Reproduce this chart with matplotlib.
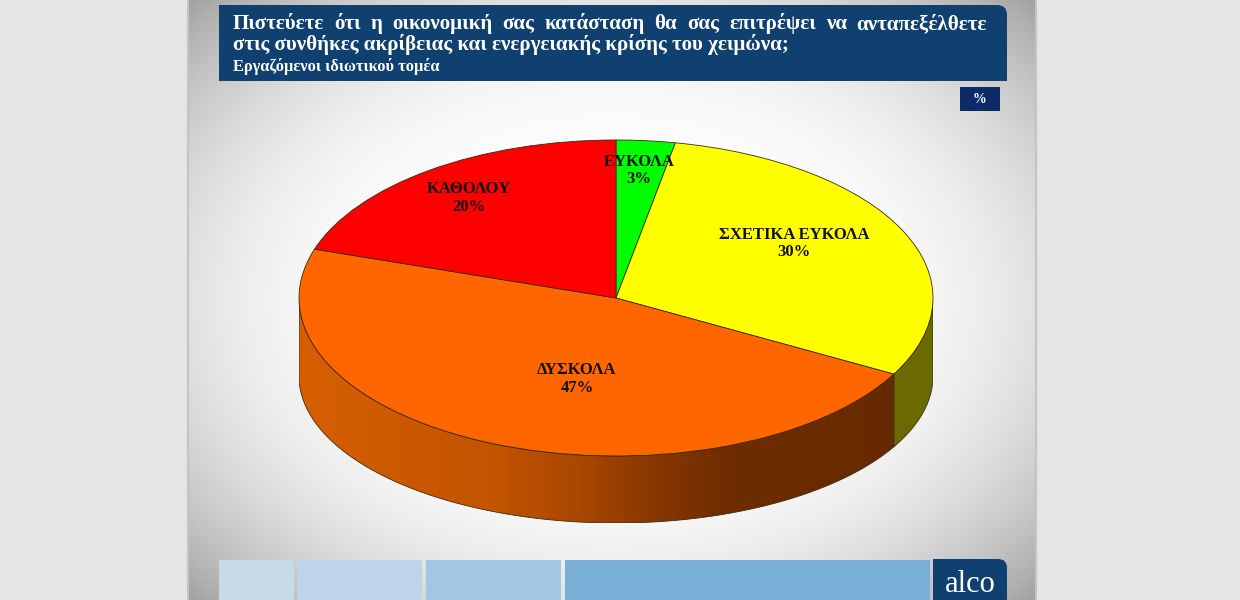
import numpy as np
import matplotlib
matplotlib.use("Agg")
import matplotlib.pyplot as plt
from matplotlib.patches import Rectangle, Polygon, PathPatch
from matplotlib.path import Path
from matplotlib.colors import LinearSegmentedColormap

# ---------------- data ----------------
categories = ["ΕΥΚΟΛΑ", "ΣΧΕΤΙΚΑ ΕΥΚΟΛΑ", "ΔΥΣΚΟΛΑ", "ΚΑΘΟΛΟΥ"]
values = [3, 30, 47, 20]
title_line1 = "Πιστεύετε ότι η οικονομική σας κατάσταση θα σας επιτρέψει να ανταπεξέλθετε"
title_line2 = "στις συνθήκες ακρίβειας και ενεργειακής κρίσης του χειμώνα;"
subtitle = "Εργαζόμενοι ιδιωτικού τομέα"
unit_label = "%"
logo_text = "alco"

# ---------------- styles ----------------
slice_colors = ["#00ff00", "#ffff00", "#ff6600", "#ff0000"]
label_rx = [0.77, 0.62, 0.31, 0.79]
label_ry = [0.81, 0.81, 0.56, 0.78]
NAVY = "#0f406f"
SERIF = ["Liberation Serif", "DejaVu Serif"]

W, H = 1240, 600
fig = plt.figure(figsize=(W / 100, H / 100), dpi=100)
fig.patch.set_facecolor("#e5e5e5")

bg = fig.add_axes([0, 0, 1, 1])
bg.set_xlim(0, W)
bg.set_ylim(H, 0)
bg.axis("off")

# slide background (radial grey gradient)
sx0, sx1 = 187, 1037
xs = np.linspace(sx0, sx1, 400)
ys = np.linspace(0, H, 300)
X, Y = np.meshgrid(xs, ys)
t = np.sqrt(((X - 612) / 430) ** 2 + ((Y - 300) / 310) ** 2)
val = 252 - 115 * np.clip(t - 0.5, 0, None) ** 2
val = np.clip(val, 150, 252) / 255.0
img = np.dstack([val, val, val])
bg.imshow(img, extent=(sx0, sx1, H, 0), aspect="auto", zorder=0, interpolation="bilinear")
bg.plot([sx0 + 1, sx0 + 1], [0, H], color="#c4c4c4", lw=1.5, zorder=1)
bg.plot([sx1 - 1, sx1 - 1], [0, H], color="#c4c4c4", lw=1.5, zorder=1)


def box_round_tr(x0, y0, x1, y1, r, color, z=2):
    # rectangle with rounded top-right corner (pixel coords, y down)
    verts = [(x0, y1), (x0, y0), (x1 - r, y0), (x1, y0), (x1, y0 + r), (x1, y1), (x0, y1)]
    codes = [Path.MOVETO, Path.LINETO, Path.LINETO, Path.CURVE3, Path.CURVE3,
             Path.LINETO, Path.CLOSEPOLY]
    bg.add_patch(PathPatch(Path(verts, codes), facecolor=color, edgecolor="none", zorder=z))


# title box
box_round_tr(219, 5, 1007, 81, 10, NAVY)

renderer = fig.canvas.get_renderer()

# font size fitted to the second title line width
probe = bg.text(233, 50, title_line2, fontsize=12, fontweight="bold", family=SERIF,
                color="white", va="baseline", ha="left", zorder=3)
w12 = probe.get_window_extent(renderer).width
fs_title = 12 * (555 / w12)
probe.set_fontsize(fs_title)

# justified first line
words = title_line1.split()
wtexts = [bg.text(0, 29, w, fontsize=fs_title, fontweight="bold", family=SERIF,
                  color="white", va="baseline", ha="left", zorder=3) for w in words]
widths = [tx.get_window_extent(renderer).width for tx in wtexts]
gap = (987 - 233 - sum(widths)) / (len(words) - 1)
xcur = 233
for tx, wd in zip(wtexts, widths):
    tx.set_x(xcur)
    xcur += wd + gap

sub = bg.text(233, 71, subtitle, fontsize=10, fontweight="bold", family=SERIF,
              color="white", va="baseline", ha="left", zorder=3)
ws = sub.get_window_extent(renderer).width
sub.set_fontsize(10 * 207 / ws)

# % box
bg.add_patch(Rectangle((960, 87), 40, 24, facecolor="#0c2b69", edgecolor="none", zorder=2))
bg.text(980, 99.5, unit_label, fontsize=10, fontweight="bold", family=SERIF,
        color="white", ha="center", va="center", zorder=3)

# bottom bars
bars = [(219, 294, "#c6daea"), (297, 422, "#bdd4ea"), (426, 561, "#a3c6e4"), (565, 930, "#79aed6")]
for x0, x1, c in bars:
    bg.add_patch(Rectangle((x0, 560), x1 - x0, 40, facecolor=c, edgecolor="none", zorder=2))
box_round_tr(933, 559, 1007, 601, 9, NAVY)
bg.text(970, 592, logo_text, fontsize=22, family=SERIF, color="white",
        ha="center", va="baseline", zorder=3)

# ---------------- pie ----------------
cxp, cyp, rx, ry = 616, 298, 317, 158
bot_off, ry_b = 78, 147
y_low = -(bot_off + ry_b) / ry
pax = fig.add_axes([(cxp - rx) / W, 1 - (cyp + bot_off + ry_b) / H,
                    2 * rx / W, (ry + bot_off + ry_b) / H])
wedges, _ = pax.pie(values, colors=slice_colors, startangle=90, counterclock=False,
                    radius=1, wedgeprops=dict(edgecolor="#3a2a10", linewidth=0.6, zorder=3))
pax.set_aspect("auto")
pax.set_xlim(-1, 1)
pax.set_ylim(y_low, 1)
pax.axis("off")
pax.patch.set_alpha(0)

bo = -bot_off / ry
sb = ry_b / ry

side_cmap = LinearSegmentedColormap.from_list(
    "side", [(0.0, "#d65f00"), (0.30, "#c45400"), (0.45, "#a84600"),
             (0.55, "#8a3800"), (0.68, "#6e2c00"), (1.0, "#662900")])
side_dark = {"#ffff00": "#6b6a00"}

for wdg, col in zip(wedges, slice_colors):
    t1, t2 = wdg.theta1, wdg.theta2
    for k in (-720, -360, 0, 360, 720):
        a1, a2 = max(t1 + k, 180), min(t2 + k, 360)
        if a2 - a1 <= 0.01:
            continue
        th = np.radians(np.linspace(a1, a2, 200))
        top = np.column_stack([np.cos(th), np.sin(th)])
        bot = np.column_stack([np.cos(th), bo + sb * np.sin(th)])[::-1]
        poly = Polygon(np.vstack([top, bot]), closed=True, facecolor="none",
                       edgecolor="#3a2a10", linewidth=0.6, zorder=2)
        pax.add_patch(poly)
        if col in side_dark:
            fill = Polygon(np.vstack([top, bot]), closed=True,
                           facecolor=side_dark[col], edgecolor="none", zorder=1)
            pax.add_patch(fill)
        else:
            grad = np.linspace(0, 1, 512)[None, :]
            im = pax.imshow(grad, cmap=side_cmap, extent=(-1, 1, y_low, 1),
                            aspect="auto", zorder=1, interpolation="bilinear")
            clip = Polygon(np.vstack([top, bot]), closed=True, transform=pax.transData)
            im.set_clip_path(clip)

pax.set_xlim(-1, 1)
pax.set_ylim(y_low, 1)

for wdg, name, v, lx, ly in zip(wedges, categories, values, label_rx, label_ry):
    tm = np.radians((wdg.theta1 + wdg.theta2) / 2)
    pax.text(lx * np.cos(tm), ly * np.sin(tm), f"{name}\n{v}%", ha="center", va="center",
             fontsize=12, fontweight="bold", family=SERIF, color="#111111",
             linespacing=1.15, zorder=5)

fig.savefig("out.png", dpi=100, facecolor=fig.get_facecolor())
